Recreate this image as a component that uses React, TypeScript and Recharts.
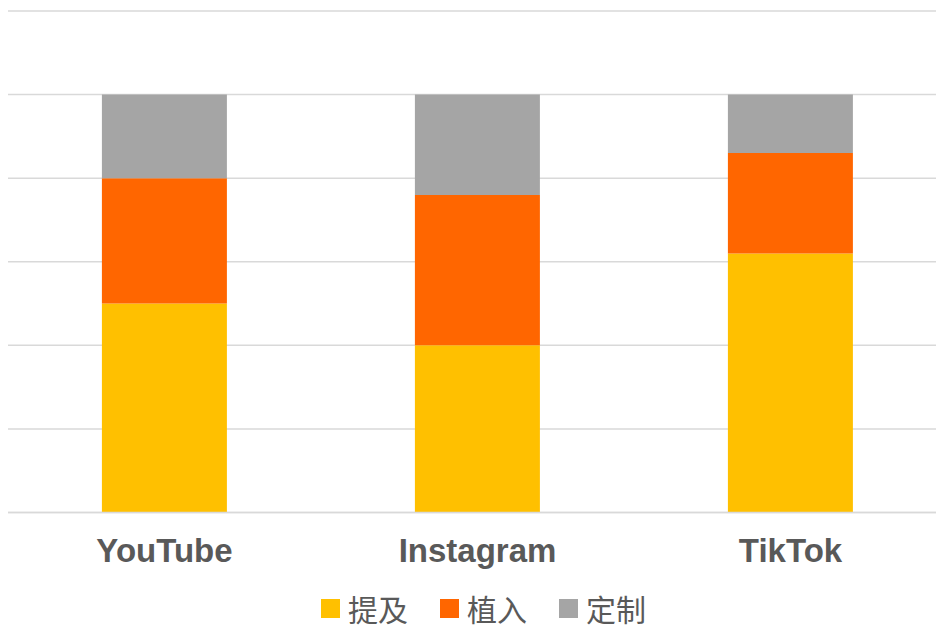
import React from 'react';
import { BarChart, Bar, XAxis, YAxis, CartesianGrid, Legend } from 'recharts';

const platforms = ['YouTube', 'Instagram', 'TikTok'];
const mention = [50, 40, 62];
const embed = [30, 36, 24];
const custom = [20, 24, 14];
const yTicks = [0, 20, 40, 60, 80, 100, 120];

const series = [
  { key: 'mention', name: '提及', color: '#FFC000' },
  { key: 'embed', name: '植入', color: '#FF6600' },
  { key: 'custom', name: '定制', color: '#A5A5A5' },
];

const data = platforms.map((p, i) => ({
  name: p,
  mention: mention[i],
  embed: embed[i],
  custom: custom[i],
}));

function LegendContent() {
  return (
    <div
      style={{
        height: 30,
        paddingTop: 21,
        paddingLeft: 12,
        display: 'flex',
        justifyContent: 'center',
        alignItems: 'center',
        fontFamily: '"Noto Sans CJK SC", sans-serif',
        fontSize: 30,
        lineHeight: '30px',
        color: '#595959',
      }}
    >
      {series.map((s, i) => (
        <div
          key={s.key}
          style={{ display: 'flex', alignItems: 'center', marginLeft: i === 0 ? 0 : 32 }}
        >
          <span style={{ width: 19, height: 19, background: s.color, marginRight: 8, display: 'inline-block' }} />
          <span>{s.name}</span>
        </div>
      ))}
    </div>
  );
}

export default function App() {
  return (
    <BarChart
      width={939}
      height={622}
      data={data}
      margin={{ top: 3, right: 0, bottom: 0, left: 0 }}
      barCategoryGap="30%"
    >
      <CartesianGrid vertical={false} stroke="#d9d9d9" strokeWidth={1.5} />
      <XAxis
        dataKey="name"
        height={59.5}
        axisLine={{ stroke: '#d9d9d9', strokeWidth: 1.5 }}
        tickLine={false}
        tickSize={0}
        tickMargin={26}
        tick={{ fill: '#595959', fontSize: 33, fontWeight: 'bold', fontFamily: '"Liberation Sans", Arial, sans-serif' }}
      />
      <YAxis hide domain={[0, 120]} ticks={yTicks} />
      <Legend verticalAlign="bottom" content={<LegendContent />} wrapperStyle={{ height: 58 }} />
      {series.map((s) => (
        <Bar key={s.key} dataKey={s.key} name={s.name} stackId="a" fill={s.color} isAnimationActive={false} />
      ))}
    </BarChart>
  );
}
